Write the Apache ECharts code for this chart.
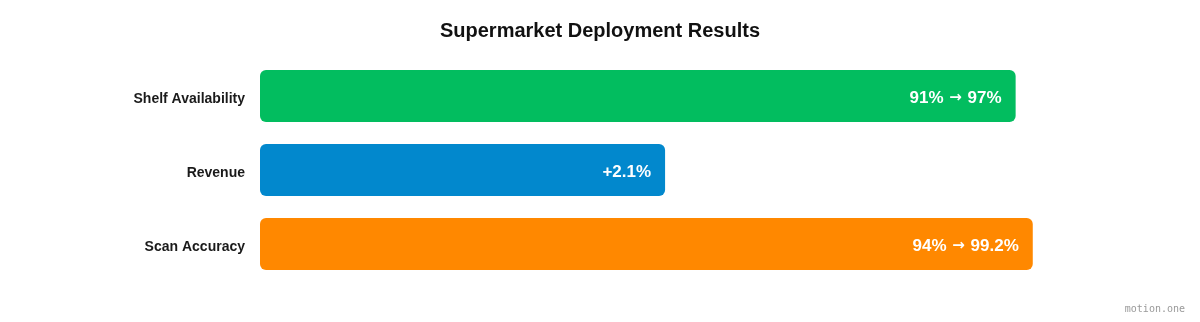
<!DOCTYPE html>
<html lang="en">
<head>
  <meta charset="UTF-8">
  <title>Supermarket Deployment Results</title>
  <style>
    html, body { margin: 0; padding: 0; background: #fff; }
    #main { width: 1200px; height: 322px; }
  </style>
</head>
<body>
  <div id="main"></div>
  <script src="https://cdn.jsdelivr.net/npm/echarts@6/dist/echarts.min.js"></script>
  <script>
    // data
    const categories = ['Shelf Availability', 'Revenue', 'Scan Accuracy'];
    const barValues = [97, 52, 99.2];
    const barLabels = ['91% {a|\u2192} 97%', '+2.1%', '94% {a|\u2192} 99.2%'];
    const barColors = ['#02bd5f', '#0288cd', '#ff8800'];

    const font = '"Liberation Sans", Arial, Helvetica, sans-serif';

    const chart = echarts.init(document.getElementById('main'));

    chart.setOption({
      animation: false,
      title: {
        text: 'Supermarket Deployment Results',
        left: 'center',
        top: 16,
        textStyle: { fontFamily: font, fontSize: 20, fontWeight: 'bold', color: '#111' }
      },
      grid: { left: 260, right: 161, top: 59, bottom: 41 },
      xAxis: {
        type: 'value',
        min: 0,
        max: 100,
        show: false
      },
      yAxis: {
        type: 'category',
        data: categories,
        inverse: true,
        axisLine: { show: false },
        axisTick: { show: false },
        axisLabel: {
          margin: 15,
          formatter: '{c|{value}}',
          rich: {
            c: {
              fontFamily: font,
              fontSize: 14,
              fontWeight: 'bold',
              color: '#1a1a1a',
              padding: [6, 0, 0, 0]
            }
          }
        }
      },
      series: [{
        type: 'bar',
        barCategoryGap: '30%',
        data: barValues.map((v, i) => ({
          value: v,
          itemStyle: { color: barColors[i], borderRadius: 6 },
          label: { formatter: barLabels[i] }
        })),
        label: {
          show: true,
          position: 'insideRight',
          offset: [0, 2],
          distance: 14,
          fontFamily: font,
          fontSize: 17,
          fontWeight: 'bold',
          color: '#fff',
          rich: {
            a: {
              fontFamily: '"DejaVu Sans", sans-serif',
              fontSize: 15,
              fontWeight: 'bold',
              color: '#fff',
              padding: [0, 1, 0, 1]
            }
          }
        }
      }],
      graphic: [{
        type: 'text',
        right: 15,
        bottom: 8,
        style: {
          text: 'motion.one',
          fontFamily: '"DejaVu Sans Mono", monospace',
          fontSize: 10,
          fill: '#999'
        }
      }]
    });
  </script>
</body>
</html>
